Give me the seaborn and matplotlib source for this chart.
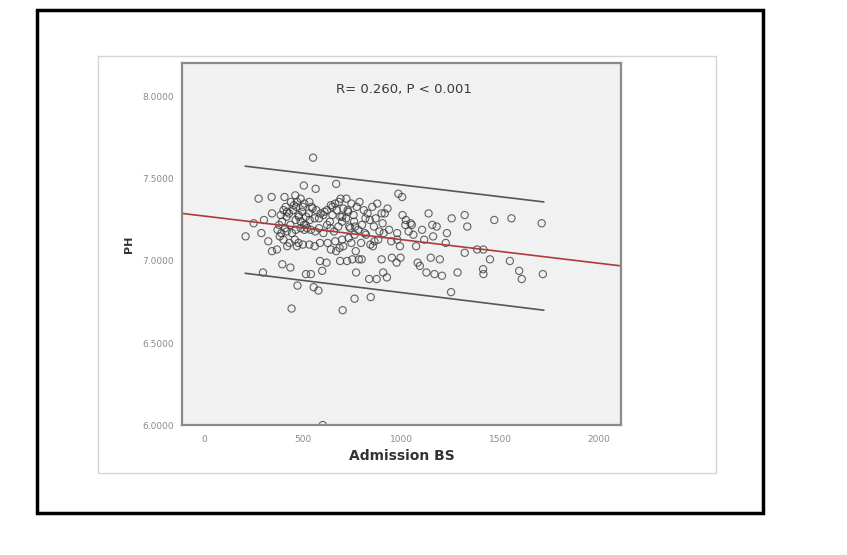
import numpy as np
import pandas as pd
import matplotlib
matplotlib.use("Agg")
import matplotlib.pyplot as plt
import matplotlib.patches as patches
import seaborn as sns

# Admission blood sugar vs pH
admission_bs = [552, 210, 251, 276, 290, 303, 298, 325, 342, 344, 344, 369, 396, 407, 437,
                443, 473, 505, 516, 541, 555, 579, 598, 601, 565, 587, 620, 669, 689, 702,
                751, 762, 770, 798, 844, 836, 874, 899, 907, 926, 984, 1003, 975, 995, 1005,
                1022, 1046, 1082, 1093, 1104, 1137, 1126, 1148, 1156, 1178, 1167, 1194, 1205,
                1224, 1230, 1254, 1251, 1284, 1320, 1320, 1333, 1383, 1415, 1413, 1415, 1448,
                1470, 1549, 1557, 1596, 1609, 1710, 1716,
                978, 992, 978, 948, 937, 910, 888, 882, 855, 863, 842, 839, 828, 852, 877,
                899, 915, 929, 869, 904, 787, 773, 757, 765, 781, 762, 746, 768, 784, 724,
                735, 719, 705, 721, 691, 683, 664, 672, 650, 637, 623, 658, 664, 669, 686,
                705, 699, 680, 699, 642, 623, 604, 582, 568, 549, 533, 508, 489, 462, 440,
                413, 402, 388, 418, 451, 467, 478, 497, 516, 535, 514, 489, 464, 437, 410,
                380, 372, 391, 418, 445, 464, 489, 508, 522, 541, 563, 582, 604, 587, 560,
                533, 500, 478, 459, 432, 402, 383, 421, 470, 626, 642, 732, 795, 814, 800,
                817, 809, 746, 727, 1019, 1036, 1052, 1074, 1115, 951,
                420, 455, 480, 500, 530, 560, 610, 640, 700, 730, 760, 820, 860, 1060, 1160,
                395, 430, 470, 505, 545, 590, 650, 690, 740]
ph = [7.63, 7.15, 7.23, 7.38, 7.17, 7.25, 6.93, 7.12, 7.39, 7.29, 7.06, 7.07, 6.98, 7.39, 6.96,
      6.71, 6.85, 7.46, 6.92, 6.92, 6.84, 6.82, 6.94, 6.00, 7.44, 7.00, 6.99, 7.47, 7.00, 6.70,
      7.01, 6.77, 6.93, 7.01, 6.78, 6.89, 6.89, 7.01, 6.93, 6.90, 7.41, 7.39, 6.99, 7.02, 7.28,
      7.25, 7.23, 6.99, 6.97, 7.19, 7.29, 6.93, 7.02, 7.22, 7.21, 6.92, 7.01, 6.91,
      7.11, 7.17, 7.26, 6.81, 6.93, 7.05, 7.28, 7.21, 7.07, 7.07, 6.95, 6.92, 7.01,
      7.25, 7.00, 7.26, 6.94, 6.89, 7.23, 6.92,
      7.17, 7.09, 7.13, 7.12, 7.19, 7.17, 7.18, 7.13, 7.09, 7.12, 7.10, 7.25, 7.29, 7.33, 7.35,
      7.29, 7.29, 7.32, 7.26, 7.23, 7.36, 7.33, 7.28, 7.21, 7.19, 7.16, 7.11, 7.06, 7.01, 7.00,
      7.21, 7.26, 7.32, 7.38, 7.38, 7.36, 7.35, 7.31, 7.28, 7.24, 7.22, 7.18, 7.12, 7.06, 7.08,
      7.09, 7.13, 7.21, 7.24, 7.34, 7.31, 7.28, 7.26, 7.31, 7.32, 7.36, 7.35, 7.38, 7.40, 7.36,
      7.33, 7.31, 7.28, 7.27, 7.31, 7.33, 7.28, 7.30, 7.27, 7.25, 7.22, 7.24, 7.25, 7.22, 7.20,
      7.22, 7.19, 7.17, 7.18, 7.17, 7.19, 7.20, 7.19, 7.20, 7.19, 7.18, 7.20, 7.17, 7.11, 7.09,
      7.10, 7.10, 7.11, 7.13, 7.11, 7.13, 7.15, 7.09, 7.09, 7.11, 7.07, 7.14, 7.11, 7.17, 7.22,
      7.26, 7.31, 7.35, 7.31, 7.22, 7.18, 7.22, 7.09, 7.13, 7.02,
      7.30, 7.34, 7.27, 7.33, 7.29, 7.26, 7.30, 7.20, 7.27, 7.30, 7.24, 7.16, 7.21, 7.16, 7.15,
      7.24, 7.29, 7.36, 7.22, 7.33, 7.29, 7.33, 7.27, 7.20]

# fitted line and prediction band
fit_x = [-112, 2112]
fit_y = [7.29, 6.97]
band_x = [208, 1721]
band_upper = [7.578, 7.36]
band_lower = [6.925, 6.70]

df = pd.DataFrame({"Admission BS": admission_bs, "PH": ph})

sns.set_style("white")
fig = plt.figure(figsize=(8.47, 5.55), dpi=100)

# outer black frame and light panel
fig.patches.append(patches.Rectangle((0.0437, 0.0757), 0.857, 0.906, transform=fig.transFigure,
                                     fill=False, edgecolor="black", linewidth=2.5))
fig.patches.append(patches.Rectangle((0.1157, 0.1477), 0.7296, 0.7514, transform=fig.transFigure,
                                     fill=False, edgecolor="#d6d6d6", linewidth=1))

ax = fig.add_axes([0.2149, 0.2342, 0.5183, 0.6523])
ax.set_facecolor("#f1f1f1")

sns.scatterplot(data=df, x="Admission BS", y="PH", ax=ax, marker="o", s=27,
                facecolors="none", edgecolor="#333333", linewidth=0.8, alpha=0.75)
sns.lineplot(x=fit_x, y=fit_y, ax=ax, color="#b03a3a", linewidth=1.2)
sns.lineplot(x=band_x, y=band_upper, ax=ax, color="#555555", linewidth=1.2)
sns.lineplot(x=band_x, y=band_lower, ax=ax, color="#555555", linewidth=1.2)

ax.set_xlim(-112, 2112)
ax.set_ylim(6.0, 8.207)
ax.set_xticks([0, 500, 1000, 1500, 2000])
ax.set_yticks([6.0, 6.5, 7.0, 7.5, 8.0])
ax.set_yticklabels(["%.4f" % v for v in [6.0, 6.5, 7.0, 7.5, 8.0]])
ax.tick_params(axis="both", direction="out", colors="#8a8a8a", labelsize=6.5, width=1.2)
ax.tick_params(axis="y", length=5, pad=1)
ax.tick_params(axis="x", length=4, pad=3)

for sp in ax.spines.values():
    sp.set_color("#8a8a8a")
    sp.set_linewidth(1.6)

ax.set_xlabel("Admission BS", fontsize=10, fontweight="bold", color="#333333", labelpad=4)
ax.set_ylabel("PH", fontsize=8, fontweight="bold", color="#333333", labelpad=6)

ax.text(0.506, 0.928, "R= 0.260, P < 0.001", transform=ax.transAxes, ha="center", va="center",
        fontsize=9.5, color="#3a3a3a")

fig.savefig("out.png", dpi=100)
